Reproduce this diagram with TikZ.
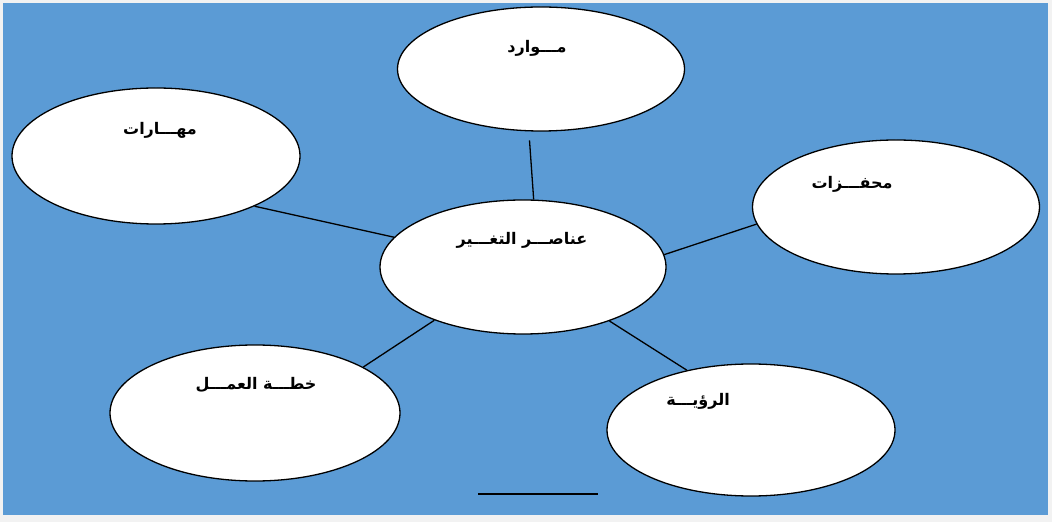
\documentclass[tikz,border=0pt]{standalone}
\usepackage{fontspec}
\usetikzlibrary{shapes.geometric}
\TeXXeTstate=1
\newfontfamily\arabicfont[Script=Arabic]{DejaVu Sans}
\definecolor{panelblue}{HTML}{5B9BD5}
\definecolor{pageframe}{HTML}{F2F2F2}
\begin{document}
\begin{tikzpicture}[x=1pt,y=1pt,
  bubble/.style={ellipse,draw=black,fill=white,line width=1.3pt,inner sep=0pt},
  label/.style={font=\arabicfont\bfseries\fontsize{16}{18}\selectfont,text=black,inner sep=0pt},
  link/.style={draw=black,line width=1.3pt}]
  % page and blue panel
  \fill[pageframe] (0,0) rectangle (1052,522);
  \useasboundingbox (0,0) rectangle (1052,522);
  \fill[panelblue] (3,7) rectangle (1048,519);

  % bubbles
  \node[bubble,minimum width=287pt,minimum height=124pt] (res) at (541,453) {};
  \node[bubble,minimum width=288pt,minimum height=136pt] (skl) at (156,366) {};
  \node[bubble,minimum width=287pt,minimum height=134pt] (mot) at (896,315) {};
  \node[bubble,minimum width=286pt,minimum height=134pt] (core) at (523,255) {};
  \node[bubble,minimum width=290pt,minimum height=136pt] (plan) at (255,109) {};
  \node[bubble,minimum width=288pt,minimum height=132pt] (vis) at (751,92) {};

  % texts
  \node[label] (tres) at (537,474) {\beginR مـــوارد\endR};
  \node[label] (tskl) at (160,392) {\beginR مهـــارات\endR};
  \node[label] (tmot) at (852,338) {\beginR محفـــزات\endR};
  \node[label] (tcore) at (522,282) {\beginR عناصـــر التغـــير\endR};
  \node[label] (tplan) at (256,137) {\beginR خطـــة العمـــل\endR};
  \node[label] (tvis) at (698,121) {\beginR الرؤيـــة\endR};

  % connectors
  \draw[link,shorten <=9pt] (res.259.6) -- (core.81.6);
  \draw[link] (skl.-27.9) -- (core.167.5);
  \draw[link] (mot.187.7) -- (core.5.2);
  \draw[link] (plan.23.3) -- (core.211.4);
  \draw[link] (vis.137.6) -- (core.-32.2);

  % short rule below the diagram
  \coordinate (ruleL) at (478,28);
  \coordinate (ruleR) at (598,28);
  \draw[link] (ruleL) -- (ruleR);
\end{tikzpicture}
\end{document}
